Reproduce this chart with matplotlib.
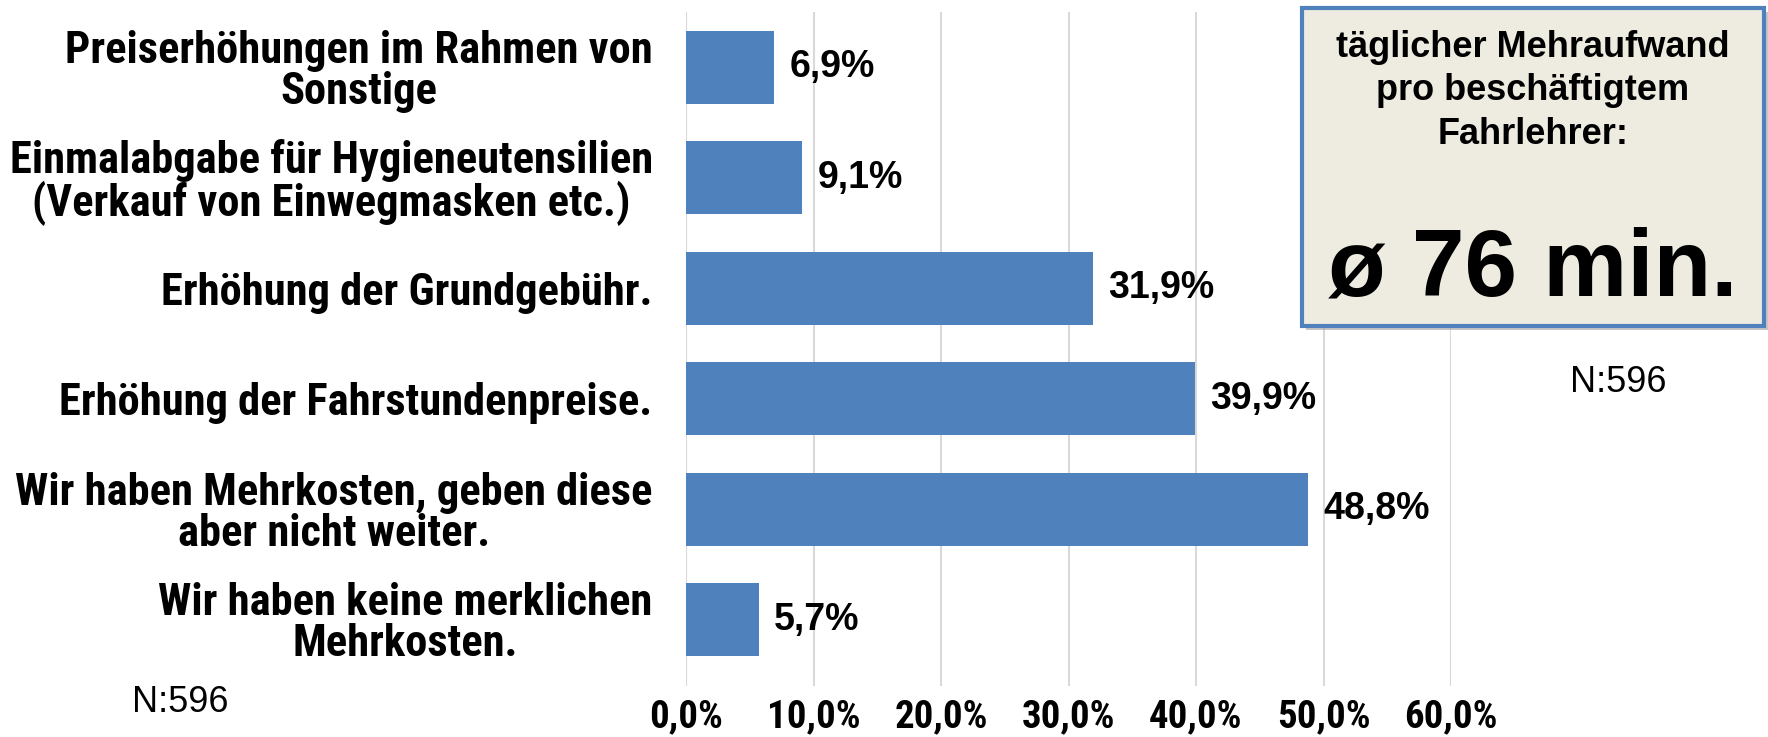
import matplotlib
matplotlib.use("Agg")
import logging
logging.getLogger("matplotlib.font_manager").setLevel(logging.ERROR)
import matplotlib.pyplot as plt
from matplotlib.patches import Rectangle

categories = [
    "Preiserhöhungen im Rahmen von\nSonstige",
    "Einmalabgabe für Hygieneutensilien\n(Verkauf von Einwegmasken etc.)",
    "Erhöhung der Grundgebühr.",
    "Erhöhung der Fahrstundenpreise.",
    "Wir haben Mehrkosten, geben diese\naber nicht weiter.",
    "Wir haben keine merklichen\nMehrkosten.",
]
values = [6.9, 9.1, 31.9, 39.9, 48.8, 5.7]
value_labels = ["6,9%", "9,1%", "31,9%", "39,9%", "48,8%", "5,7%"]
xticks = [0, 10, 20, 30, 40, 50, 60]
xtick_labels = ["0,0%", "10,0%", "20,0%", "30,0%", "40,0%", "50,0%", "60,0%"]
box_title = "täglicher Mehraufwand\npro beschäftigtem\nFahrlehrer:"
box_value = "ø 76 min."
n_label = "N:596"

W, H = 1768, 737
fig = plt.figure(figsize=(W / 100, H / 100), dpi=100)
fig.patch.set_facecolor("white")

narrow = ["Roboto Condensed", "PT Sans Narrow", "Barlow Semi Condensed", "Liberation Sans", "DejaVu Sans"]
arial = ["Liberation Sans", "DejaVu Sans"]

ax = fig.add_axes([686 / W, 1 - 686 / H, (1451 - 686) / W, (686 - 12) / H])
ypos = list(range(len(categories)))
ax.barh(ypos, values, height=0.66, color="#4F81BD", zorder=3)
ax.set_xlim(0, 60)
ax.set_ylim(5.6, -0.5)
ax.set_xticks(xticks)
ax.set_xticklabels(xtick_labels, fontfamily=narrow, fontweight="bold", fontsize=28)
ax.set_yticks(ypos)
ax.set_yticklabels(categories, fontfamily=narrow, fontweight="bold", fontsize=32,
                   linespacing=0.97, ha="right", multialignment="center")
ax.tick_params(axis="x", length=0, pad=9)
ax.tick_params(axis="y", length=0, pad=24)
for s in ax.spines.values():
    s.set_visible(False)
ax.grid(axis="x", color="#D9D9D9", linewidth=1.5, zorder=0)
ax.set_axisbelow(True)

for y, v, lab in zip(ypos, values, value_labels):
    ax.annotate(lab, xy=(v, y), xytext=(11, 0), textcoords="offset points",
                va="center", ha="left", fontfamily=arial, fontweight="bold", fontsize=27)

# Info box
bx0, by0, bx1, by1 = 1302, 8, 1764, 326
shadow = Rectangle(((bx0 + 4) / W, 1 - (by1 + 4) / H), (bx1 - bx0) / W, (by1 - by0) / H,
                   transform=fig.transFigure, facecolor="#A0A0A0", edgecolor="none",
                   alpha=0.6, zorder=4)
box = Rectangle((bx0 / W, 1 - by1 / H), (bx1 - bx0) / W, (by1 - by0) / H,
                transform=fig.transFigure, facecolor="#EEECE1", edgecolor="#4F81BD",
                linewidth=3, zorder=5)
fig.patches.extend([shadow, box])
fig.text(1533 / W, 1 - 91 / H, box_title, ha="center", va="center", fontfamily=arial,
         fontweight="bold", fontsize=26, linespacing=1.3, zorder=6)
fig.text(1533 / W, 1 - 296 / H, box_value, ha="center", va="baseline", fontfamily=arial,
         fontweight="bold", fontsize=68, zorder=6)

fig.text(1618 / W, 1 - 383 / H, n_label, ha="center", va="center", fontfamily=arial, fontsize=26)
fig.text(180 / W, 1 - 702 / H, n_label, ha="center", va="center", fontfamily=arial, fontsize=26)

fig.savefig("out.png", dpi=100)
